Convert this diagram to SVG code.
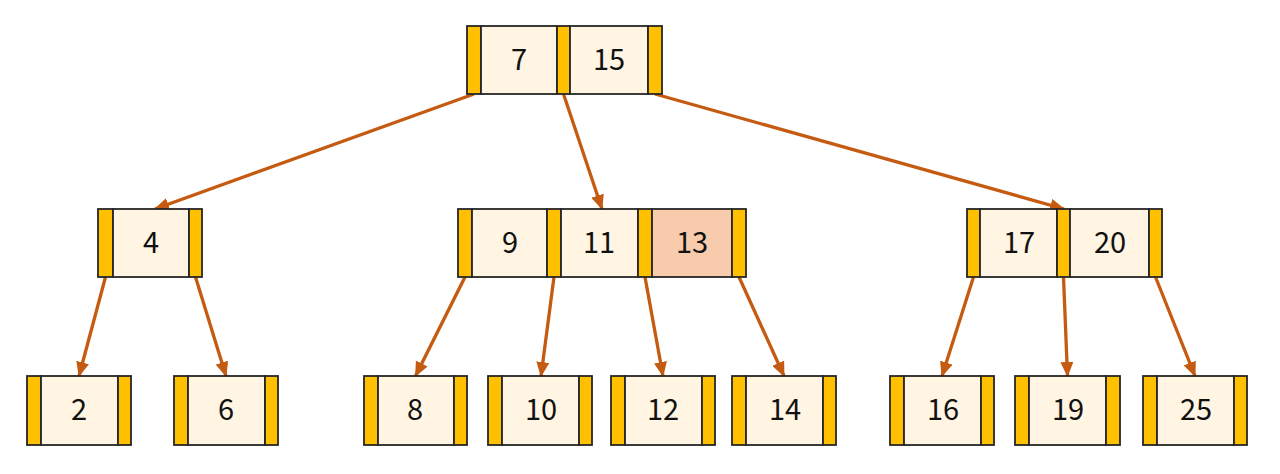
<svg xmlns="http://www.w3.org/2000/svg" width="1280" height="474" viewBox="0 0 1280 474">
<style>
.bar{fill:#FFC000;stroke:#262626;stroke-width:1.8}
.key{fill:#FFF5E2;stroke:#262626;stroke-width:1.8}
.hl{fill:#F8CBAD;stroke:#262626;stroke-width:1.8}
.t{font-family:"Noto Sans CJK KR","Noto Sans",sans-serif;font-size:29px;fill:#111;text-anchor:middle}
.e{stroke:#C55A11;stroke-width:3.3;fill:none;marker-end:url(#ah)}
</style>
<defs>
<marker id="ah" markerUnits="userSpaceOnUse" markerWidth="15" markerHeight="13" viewBox="0 0 15 13" refX="14" refY="6.5" orient="auto">
<path d="M0,0 L15,6.5 L0,13 Z" fill="#C55A11"/>
</marker>
</defs>
<rect width="1280" height="474" fill="#fff"/>
<g id="connectors">
<line class="e" x1="474" y1="94" x2="155" y2="209"/>
<line class="e" x1="563.5" y1="94" x2="602" y2="209"/>
<line class="e" x1="655" y1="94" x2="1064" y2="209"/>
<line class="e" x1="105.5" y1="277" x2="79" y2="376"/>
<line class="e" x1="195.5" y1="277" x2="226" y2="376"/>
<line class="e" x1="465" y1="277" x2="415.5" y2="376"/>
<line class="e" x1="554" y1="277" x2="541" y2="376"/>
<line class="e" x1="645" y1="277" x2="663" y2="376"/>
<line class="e" x1="739" y1="277" x2="784" y2="376"/>
<line class="e" x1="973.5" y1="277" x2="942" y2="376"/>
<line class="e" x1="1063.5" y1="277" x2="1067.5" y2="376"/>
<line class="e" x1="1155.5" y1="277" x2="1195" y2="376"/>
</g>
<g id="node-7-15">
<rect class="bar" x="467" y="26" width="14" height="68"/>
<rect class="key" x="481" y="26" width="76" height="68"/>
<rect class="bar" x="557" y="26" width="13" height="68"/>
<rect class="key" x="570" y="26" width="78" height="68"/>
<rect class="bar" x="648" y="26" width="14" height="68"/>
<text class="t" x="519" y="70">7</text>
<text class="t" x="609" y="70">15</text>
</g>
<g id="node-4">
<rect class="bar" x="98" y="209" width="15" height="68"/>
<rect class="key" x="113" y="209" width="76" height="68"/>
<rect class="bar" x="189" y="209" width="13" height="68"/>
<text class="t" x="151" y="253">4</text>
</g>
<g id="node-9-11-13">
<rect class="bar" x="458" y="209" width="14" height="68"/>
<rect class="key" x="472" y="209" width="75" height="68"/>
<rect class="bar" x="547" y="209" width="14" height="68"/>
<rect class="key" x="561" y="209" width="77" height="68"/>
<rect class="bar" x="638" y="209" width="14" height="68"/>
<rect class="hl" x="652" y="209" width="80" height="68"/>
<rect class="bar" x="732" y="209" width="14" height="68"/>
<text class="t" x="510" y="253">9</text>
<text class="t" x="599" y="253">11</text>
<text class="t" x="692" y="253">13</text>
</g>
<g id="node-17-20">
<rect class="bar" x="967" y="209" width="13" height="68"/>
<rect class="key" x="980" y="209" width="77" height="68"/>
<rect class="bar" x="1057" y="209" width="13" height="68"/>
<rect class="key" x="1070" y="209" width="79" height="68"/>
<rect class="bar" x="1149" y="209" width="13" height="68"/>
<text class="t" x="1019" y="253">17</text>
<text class="t" x="1110" y="253">20</text>
</g>
<g id="node-2">
<rect class="bar" x="27" y="376" width="14" height="69"/>
<rect class="key" x="41" y="376" width="77" height="69"/>
<rect class="bar" x="118" y="376" width="13" height="69"/>
<text class="t" x="79" y="420">2</text>
</g>
<g id="node-6">
<rect class="bar" x="174" y="376" width="14" height="69"/>
<rect class="key" x="188" y="376" width="77" height="69"/>
<rect class="bar" x="265" y="376" width="13" height="69"/>
<text class="t" x="226" y="420">6</text>
</g>
<g id="node-8">
<rect class="bar" x="364" y="376" width="14" height="69"/>
<rect class="key" x="378" y="376" width="76" height="69"/>
<rect class="bar" x="454" y="376" width="13" height="69"/>
<text class="t" x="415" y="420">8</text>
</g>
<g id="node-10">
<rect class="bar" x="488" y="376" width="14" height="69"/>
<rect class="key" x="502" y="376" width="77" height="69"/>
<rect class="bar" x="579" y="376" width="13" height="69"/>
<text class="t" x="541" y="420">10</text>
</g>
<g id="node-12">
<rect class="bar" x="611" y="376" width="14" height="69"/>
<rect class="key" x="625" y="376" width="77" height="69"/>
<rect class="bar" x="702" y="376" width="13" height="69"/>
<text class="t" x="663" y="420">12</text>
</g>
<g id="node-14">
<rect class="bar" x="732" y="376" width="14" height="69"/>
<rect class="key" x="746" y="376" width="77" height="69"/>
<rect class="bar" x="823" y="376" width="13" height="69"/>
<text class="t" x="785" y="420">14</text>
</g>
<g id="node-16">
<rect class="bar" x="890" y="376" width="14" height="69"/>
<rect class="key" x="904" y="376" width="77" height="69"/>
<rect class="bar" x="981" y="376" width="13" height="69"/>
<text class="t" x="943" y="420">16</text>
</g>
<g id="node-19">
<rect class="bar" x="1015" y="376" width="14" height="69"/>
<rect class="key" x="1029" y="376" width="77" height="69"/>
<rect class="bar" x="1106" y="376" width="14" height="69"/>
<text class="t" x="1068" y="420">19</text>
</g>
<g id="node-25">
<rect class="bar" x="1143" y="376" width="14" height="69"/>
<rect class="key" x="1157" y="376" width="77" height="69"/>
<rect class="bar" x="1234" y="376" width="13" height="69"/>
<text class="t" x="1196" y="420">25</text>
</g>
</svg>
